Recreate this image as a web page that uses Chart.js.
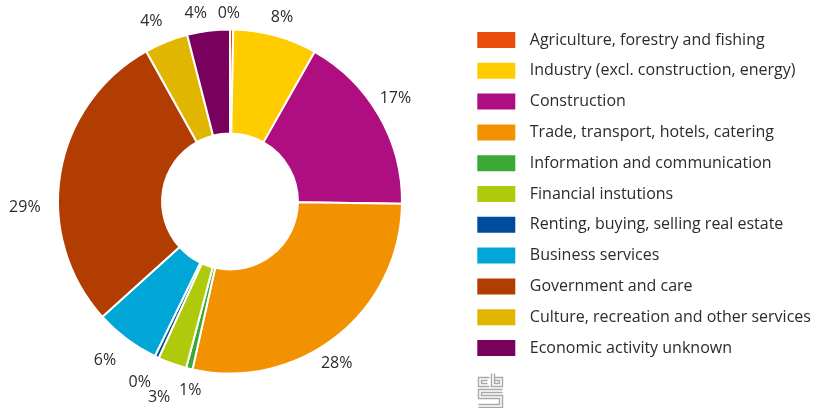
<!DOCTYPE html>
<html>
<head>
<meta charset="utf-8">
<script src="https://cdn.jsdelivr.net/npm/chart.js@4/dist/chart.umd.min.js"></script>
<style>
html,body{margin:0;padding:0;background:#fff;}
#wrap{position:relative;width:814px;height:408px;overflow:hidden;}
#c{position:absolute;left:-9px;top:0;}
</style>
</head>
<body>
<div id="wrap"><canvas id="c" width="823" height="408"></canvas></div>
<script>
// ---- data ----
const categories = [
  'Agriculture, forestry and fishing',
  'Industry (excl. construction, energy)',
  'Construction',
  'Trade, transport, hotels, catering',
  'Information and communication',
  'Financial instutions',
  'Renting, buying, selling real estate',
  'Business services',
  'Government and care',
  'Culture, recreation and other services',
  'Economic activity unknown'
];
const shares = [0.3, 7.9, 17.0, 28.3, 0.6, 2.7, 0.4, 6.1, 28.6, 4.1, 4.0];
const sliceColors = ['#e94c0a', '#ffcc00', '#af0e80', '#f39200', '#3aa935', '#afca0b', '#004b9b', '#00a7d6', '#b23d02', '#e1b600', '#7a005d'];

// ---- style ----
const FONT = 'Open Sans';
const FONT_SIZE = 16;
const TEXT_COLOR = '#2b2b2b';
const SHIFT = 9; // canvas is shifted 9px left on the page
// per-label nudges [dx, dy] (label placement tweaks, px)
const labelNudges = [[-3,1],[1,-2],[-6,-9],[-16,14],[6,5],[-6,18],[-8,10],[-9,8],[-10,37],[-7,-5],[-10,-1]];

const outsideLabels = {
  id: 'outsideLabels',
  afterDatasetsDraw(chart) {
    const ctx = chart.ctx;
    const meta = chart.getDatasetMeta(0);
    ctx.save();
    ctx.font = FONT_SIZE + 'px "' + FONT + '"';
    ctx.fillStyle = TEXT_COLOR;
    ctx.textAlign = 'center';
    ctx.textBaseline = 'middle';
    meta.data.forEach((arc, i) => {
      const p = arc.getProps(['x','y','startAngle','endAngle','outerRadius'], true);
      const mid = (p.startAngle + p.endAngle) / 2;
      const txt = Math.round(chart.data.datasets[0].data[i]) + '%';
      const w = ctx.measureText(txt).width;
      const r = p.outerRadius + 10;
      const c = Math.cos(mid), s = Math.sin(mid);
      const n = labelNudges[i] || [0,0];
      const x = p.x + r * c + c * w / 2 + n[0];
      const y = p.y + r * s + s * 7 + n[1];
      ctx.fillText(txt, x, y);
    });
    ctx.restore();
  }
};

// small grey "cbs" logo mark under the legend
const logoMark = {
  id: 'logoMark',
  afterDraw(chart) {
    const ctx = chart.ctx;
    ctx.save();
    ctx.translate(SHIFT, 0);
    ctx.strokeStyle = '#a8a8a8';
    ctx.lineWidth = 1.4;
    const segs = [
      [[489,377],[478,377],[478,386],[489,386]],
      [[487,380],[481,380],[481,383],[487,383]],
      [[491,373],[491,386],[502,386],[502,377],[494,377]],
      [[494,373],[494,383],[499,383],[499,380],[494,380]],
      [[502,389],[478,389],[478,398],[499,398],[499,404],[478,404]],
      [[502,392],[481,392],[481,395],[502,395],[502,407],[478,407]]
    ];
    segs.forEach(s => {
      ctx.beginPath();
      s.forEach((pt, k) => k ? ctx.lineTo(pt[0] + 0.5, pt[1] + 0.5) : ctx.moveTo(pt[0] + 0.5, pt[1] + 0.5));
      ctx.stroke();
    });
    ctx.restore();
  }
};

new Chart(document.getElementById('c'), {
  type: 'doughnut',
  data: {
    labels: categories,
    datasets: [{
      data: shares,
      backgroundColor: sliceColors,
      borderColor: '#ffffff',
      borderWidth: 2,
      radius: 172,
      cutout: '39.5%'
    }]
  },
  options: {
    responsive: false,
    animation: false,
    layout: { padding: { left: 0, right: 0, top: 23.7, bottom: 28.7 } },
    plugins: {
      tooltip: { enabled: false },
      legend: {
        position: 'right',
        align: 'start',
        maxWidth: 345,
        labels: {
          boxWidth: 51,
          boxHeight: 29,
          padding: 1.8,
          color: TEXT_COLOR,
          font: { family: FONT, size: FONT_SIZE },
          generateLabels(chart) {
            const base = Chart.overrides.doughnut.plugins.legend.labels.generateLabels(chart);
            return base.map(it => Object.assign(it, { strokeStyle: '#ffffff', lineWidth: 13 }));
          }
        }
      }
    }
  },
  plugins: [outsideLabels, logoMark]
});
</script>
</body>
</html>
